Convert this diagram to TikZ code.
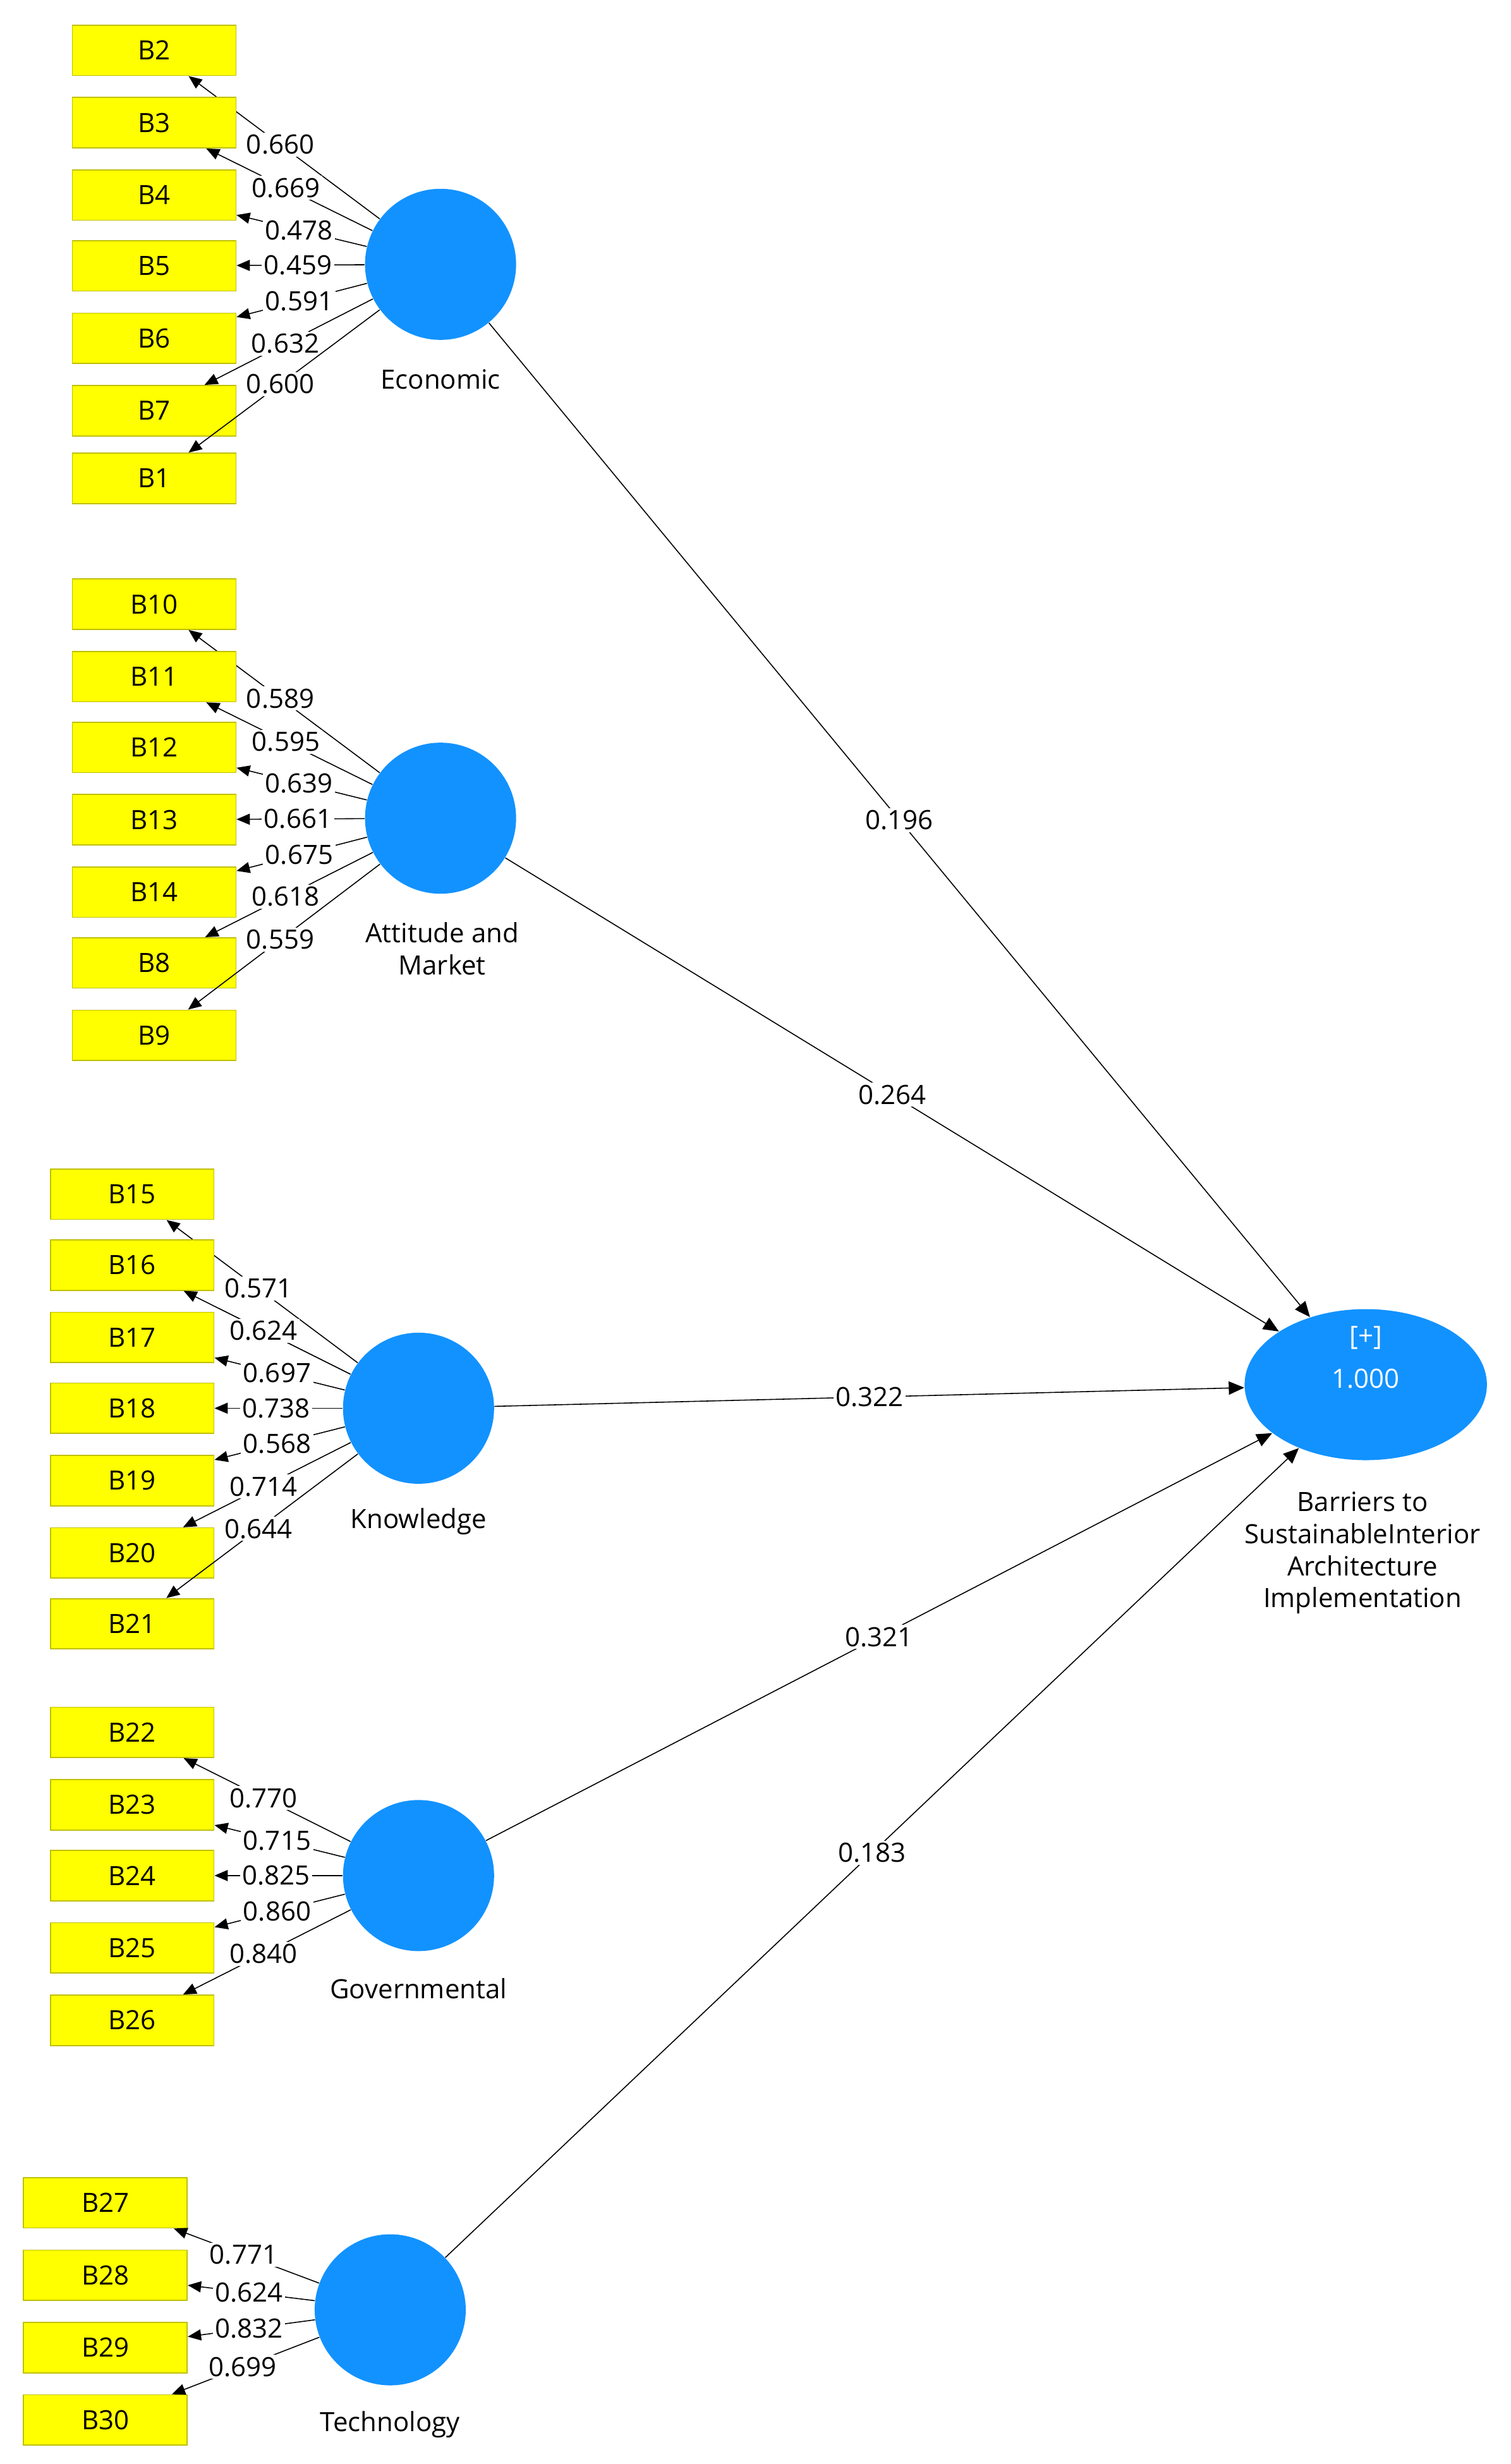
\documentclass[tikz,border=0pt]{standalone}
\usepackage{fontspec}
\setmainfont{Open Sans}
\usetikzlibrary{arrows.meta,shapes.geometric}
\definecolor{lv}{RGB}{18,146,255}
\definecolor{ind}{RGB}{255,255,0}
\begin{document}
\begin{tikzpicture}[x=0.25mm,y=-0.25mm,
  every node/.style={font=\fontsize{12}{14.5}\selectfont},
  box/.style={draw=ind!75!black,line width=0.5pt,fill=ind,minimum width=26mm,minimum height=8mm,inner sep=0pt},
  lat/.style={circle,fill=lv,minimum size=24mm,inner sep=0pt},
  ld/.style={line width=0.45pt,-{Triangle[length=6pt,width=5pt]}},
  val/.style={fill=white,inner sep=1pt,pos=0.52},
  pth/.style={line width=0.45pt,-{Triangle[length=7pt,width=6pt]}}]
\useasboundingbox (0,0) rectangle (960,1566);
% latent variables
\node[lat] (eco) at (280,168) {};
\node at (280,241) {Economic};
\node[lat] (att) at (280,520) {};
\node[align=center] at (281,603) {Attitude and\\Market};
\node[lat] (kno) at (266,895) {};
\node at (266,967) {Knowledge};
\node[lat] (gov) at (266,1192) {};
\node at (266,1264) {Governmental};
\node[lat] (tec) at (248,1468) {};
\node at (248,1541) {Technology};
\node[ellipse,fill=lv,minimum width=38.5mm,minimum height=24mm,inner sep=0pt] (bar) at (868,880) {};
\node[text=white] at (868,850) {[+]};
\node[text=white] at (868,876) {1.000};
\node[align=center] at (866,987) {Barriers to\\SustainableInterior\\Architecture\\Implementation};
% indicators
\foreach \n/\y/\v in {B2/32/0.660,B3/78/0.669,B4/124/0.478,B5/169/0.459,B6/215/0.591,B7/261/0.632,B1/304/0.600}
  {\node[box] (\n) at (98,\y) {\n}; \draw[ld] (eco) -- (\n) node[val] {\v};}
\foreach \n/\y/\v in {B10/384/0.589,B11/430/0.595,B12/475/0.639,B13/521/0.661,B14/567/0.675,B8/612/0.618,B9/658/0.559}
  {\node[box] (\n) at (98,\y) {\n}; \draw[ld] (att) -- (\n) node[val] {\v};}
\foreach \n/\y/\v in {B15/759/0.571,B16/804/0.624,B17/850/0.697,B18/895/0.738,B19/941/0.568,B20/987/0.714,B21/1032/0.644}
  {\node[box] (\n) at (84,\y) {\n}; \draw[ld] (kno) -- (\n) node[val] {\v};}
\foreach \n/\y/\v in {B22/1101/0.770,B23/1147/0.715,B24/1192/0.825,B25/1238/0.860,B26/1284/0.840}
  {\node[box] (\n) at (84,\y) {\n}; \draw[ld] (gov) -- (\n) node[val] {\v};}
\foreach \n/\y/\v in {B27/1400/0.771,B28/1446/0.624,B29/1492/0.832,B30/1538/0.699}
  {\node[box] (\n) at (67,\y) {\n}; \draw[ld] (tec) -- (\n) node[val] {\v};}
% structural paths
\draw[pth] (eco) -- (bar) node[fill=white,inner sep=1pt,pos=0.5] {0.196};
\draw[pth] (att) -- (bar) node[fill=white,inner sep=1pt,pos=0.5] {0.264};
\draw[pth] (kno) -- (bar) node[fill=white,inner sep=1pt,pos=0.5] {0.322};
\draw[pth] (gov) -- (bar) node[fill=white,inner sep=1pt,pos=0.5] {0.321};
\draw[pth] (tec) -- (bar) node[fill=white,inner sep=1pt,pos=0.5] {0.183};
\end{tikzpicture}
\end{document}
